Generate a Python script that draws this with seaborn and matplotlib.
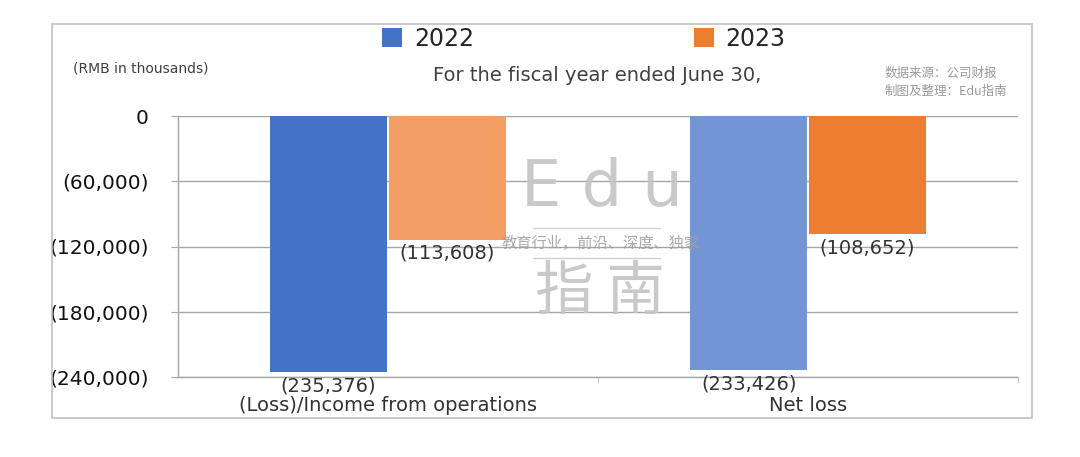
import numpy as np
import pandas as pd
import matplotlib
matplotlib.use("Agg")
import matplotlib.pyplot as plt
import seaborn as sns
from matplotlib.patches import Patch, Rectangle
from matplotlib.lines import Line2D

categories = ["(Loss)/Income from operations", "Net loss"]
years = ["2022", "2023"]
values_2022 = [-235376, -233426]
values_2023 = [-113608, -108652]
y_ticks = [0, -60000, -120000, -180000, -240000]

legend_colors = ["#4472C4", "#ED7D31"]
# the source colours each bar slightly differently
bar_colors = [["#4472C4", "#7395D3"], ["#F29D63", "#ED7D31"]]


def paren(v):
    if v < 0:
        return f"({abs(v):,.0f})"
    return f"{v:,.0f}"


df = pd.DataFrame({
    "category": categories * 2,
    "year": [years[0]] * 2 + [years[1]] * 2,
    "value": values_2022 + values_2023,
})

sns.set_style("white")
plt.rcParams["font.family"] = ["DejaVu Sans", "Noto Sans CJK SC"]

fig = plt.figure(figsize=(10.8, 4.57), dpi=100)
ax = fig.add_axes([178 / 1080, 1 - 377 / 457, 840 / 1080, 261 / 457])

sns.barplot(data=df, x="category", y="value", hue="year", palette=legend_colors,
            width=0.565, gap=0.015, legend=False, ax=ax, saturation=1, zorder=3)

for i, cont in enumerate(ax.containers):
    for j, bar in enumerate(cont):
        bar.set_facecolor(bar_colors[i][j])
        bar.set_edgecolor("none")
    ax.bar_label(cont, labels=[paren(b.get_height()) for b in cont], padding=3,
                 fontsize=14, color="#333333")

ax.set_ylim(-240000, 0)
ax.set_xlim(-0.5, 1.5)
ax.set_yticks(y_ticks)
ax.set_yticklabels([paren(v) for v in y_ticks], fontsize=14.5, color="#111111")
ax.set_xticks([0, 1])
ax.set_xticklabels(categories, fontsize=14, color="#333333")
ax.set_xticks([0.5, 1.5], minor=True)
ax.tick_params(axis="x", which="major", length=0, pad=14)
ax.tick_params(axis="x", which="minor", length=4, color="#bfbfbf", direction="out", bottom=True)
ax.tick_params(axis="y", length=5, color="#a6a6a6", direction="out", pad=16, left=True)
ax.set_xlabel("")
ax.set_ylabel("")
ax.yaxis.grid(True, color="#a6a6a6", linewidth=1)
ax.set_axisbelow(True)
for s in ["top", "right"]:
    ax.spines[s].set_visible(False)
for s in ["left", "bottom"]:
    ax.spines[s].set_color("#a6a6a6")
    ax.spines[s].set_linewidth(1)

# outer frame
fig.add_artist(Rectangle((52 / 1080, 1 - 418 / 457), 980 / 1080, 394 / 457,
                         transform=fig.transFigure, fill=False, ec="#c0c0c0", lw=1.2))

handles = [Patch(facecolor=c, edgecolor="none") for c in legend_colors]
fig.legend(handles, years, loc="center", bbox_to_anchor=(584 / 1080, 1 - 39 / 457),
           ncol=2, frameon=False, fontsize=17, handlelength=0.85, handleheight=0.85,
           handletextpad=0.5, columnspacing=9.3)

fig.text(73 / 1080, 1 - 69 / 457, "(RMB in thousands)", fontsize=10, color="#404040",
         va="center", ha="left")
fig.text(597 / 1080, 1 - 76 / 457, "For the fiscal year ended June 30,", fontsize=14,
         color="#404040", va="center", ha="center")
fig.text(885 / 1080, 1 - 73 / 457, "数据来源：公司财报", fontsize=9, color="#9a9a9a",
         va="center", ha="left", family=["Noto Sans CJK SC", "DejaVu Sans"])
fig.text(885 / 1080, 1 - 91 / 457, "制图及整理：Edu指南", fontsize=9, color="#9a9a9a",
         va="center", ha="left", family=["Noto Sans CJK SC", "DejaVu Sans"])

# watermark
wm = "#c4c4c4"
fig.text(602 / 1080, 1 - 188 / 457, "E d u", fontsize=46, color=wm, va="center", ha="center",
         alpha=0.9)
fig.text(601 / 1080, 1 - 243 / 457, "教育行业，前沿、深度、独家", fontsize=11, color="#a0a0a0",
         va="center", ha="center", family=["Noto Sans CJK SC", "DejaVu Sans"], alpha=0.9)
fig.text(600 / 1080, 1 - 293 / 457, "指 南", fontsize=42, color=wm, va="center", ha="center",
         family=["Noto Sans CJK SC", "DejaVu Sans"], alpha=0.9)
for yy in [228, 258]:
    fig.add_artist(Line2D([533 / 1080, 660 / 1080], [1 - yy / 457, 1 - yy / 457],
                          transform=fig.transFigure, color="#d0d0d0", lw=1))

fig.savefig("out.png", dpi=100)
